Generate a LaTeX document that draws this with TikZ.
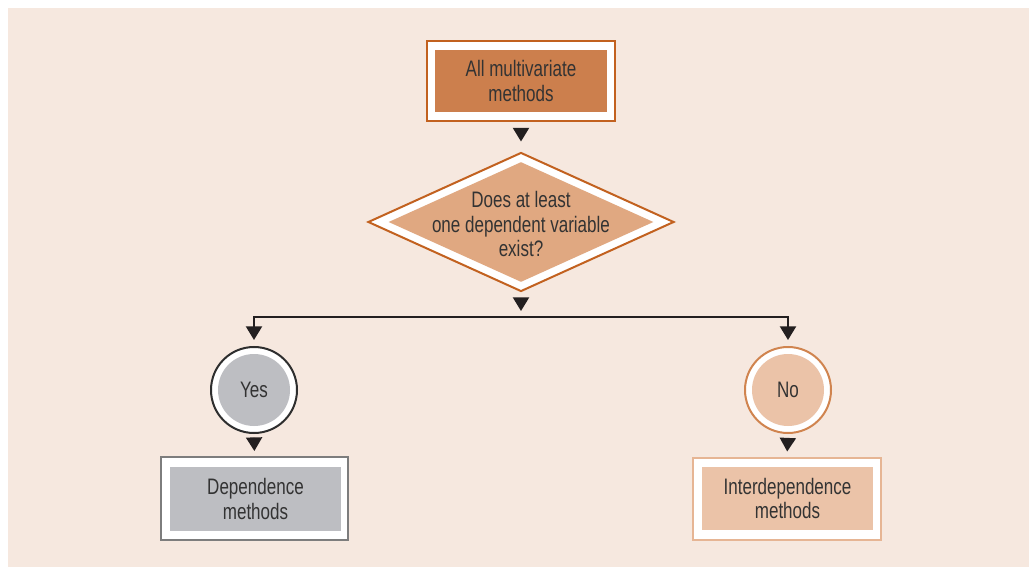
\documentclass[tikz,border=0pt]{standalone}
\usepackage{fontspec}
\setmainfont{Liberation Sans}[FakeStretch=0.76]
\usetikzlibrary{shapes.geometric,arrows.meta}
\definecolor{bgcream}{HTML}{F6E8DF}
\definecolor{topline}{HTML}{C2611F}
\definecolor{topfill}{HTML}{CC7F4D}
\definecolor{diafill}{HTML}{E0A881}
\definecolor{yesline}{HTML}{2E2E2E}
\definecolor{greyfill}{HTML}{BDBEC2}
\definecolor{depline}{HTML}{7D7D7D}
\definecolor{noline}{HTML}{D0844F}
\definecolor{nofill}{HTML}{EBC3A8}
\definecolor{interline}{HTML}{E6B594}
\definecolor{inkgray}{HTML}{333333}
\definecolor{arrowink}{HTML}{231F20}
\tikzset{
  outerbox/.style={draw=#1, fill=white, line width=1pt, inner sep=0pt},
  innerbox/.style={fill=#1, inner sep=0pt, align=center},
  outerdia/.style={diamond, draw=#1, fill=white, line width=1pt, inner sep=0pt},
  innerdia/.style={diamond, fill=#1, inner sep=0pt},
  outerdot/.style={circle, draw=#1, fill=white, line width=1pt, inner sep=0pt, minimum size=43pt},
  innerdot/.style={circle, fill=#1, inner sep=0pt, minimum size=36pt},
  tip/.style={draw=arrowink, line width=1pt, -{Triangle[length=6.8pt,width=8pt]}},
}
\begin{document}
\begin{tikzpicture}[x=.5pt,y=-.5pt,font=\fontsize{11.2}{12.3}\selectfont,text=inkgray]
  % Question splits the multivariate methods in two families.
  \useasboundingbox (0,0) rectangle (1029,567);
  \fill[bgcream] (8,8) rectangle (1029,567);

  \node[outerbox=topline, minimum width=94pt, minimum height=40pt] (allout) at (521,81) {};
  \node[innerbox=topfill, minimum width=86pt, minimum height=31pt] (all) at (allout) {All multivariate\\methods};

  \node[outerdia=topline, minimum width=153pt, minimum height=69.5pt] (existout) at (521,222) {};
  \node[innerdia=diafill, minimum width=132.5pt, minimum height=60pt] (existin) at (existout) {};
  \node[inner sep=0pt, align=center] (exist) at (521,224) {Does at least\\one dependent variable\\exist?};

  \node[outerdot=yesline] (yesout) at (254,390) {};
  \node[innerdot=greyfill] (yes) at (yesout) {Yes};
  \node[outerdot=noline] (noout) at (788,390) {};
  \node[innerdot=nofill] (no) at (noout) {No};

  \node[outerbox=depline, minimum width=93.5pt, minimum height=41.5pt] (depout) at (254.5,498.5) {};
  \node[innerbox=greyfill, minimum width=85.5pt, minimum height=32pt] (dep) at (255.5,499) {Dependence\\methods};
  \node[outerbox=interline, minimum width=94pt, minimum height=41pt] (interout) at (787,498.5) {};
  \node[innerbox=nofill, minimum width=85.5pt, minimum height=31.5pt] (inter) at (787.5,498.5) {Interdependence\\methods};

  \coordinate (split) at (521,317);
  \draw[tip, shorten <=4.5pt, shorten >=5pt] (allout.south) -- (existout.north);
  \draw[tip, shorten <=3pt, shorten >=3pt] (existout.south) -- (split);
  \draw[tip, shorten >=3pt] (split) -| (yesout.north);
  \draw[tip, shorten >=3pt] (split) -| (noout.north);
  \draw[tip, shorten <=3pt, shorten >=2.5pt] (yesout.south) -- (depout.north);
  \draw[tip, shorten <=3pt, shorten >=2.5pt] (noout.south) -- (interout.north);
\end{tikzpicture}
\end{document}
